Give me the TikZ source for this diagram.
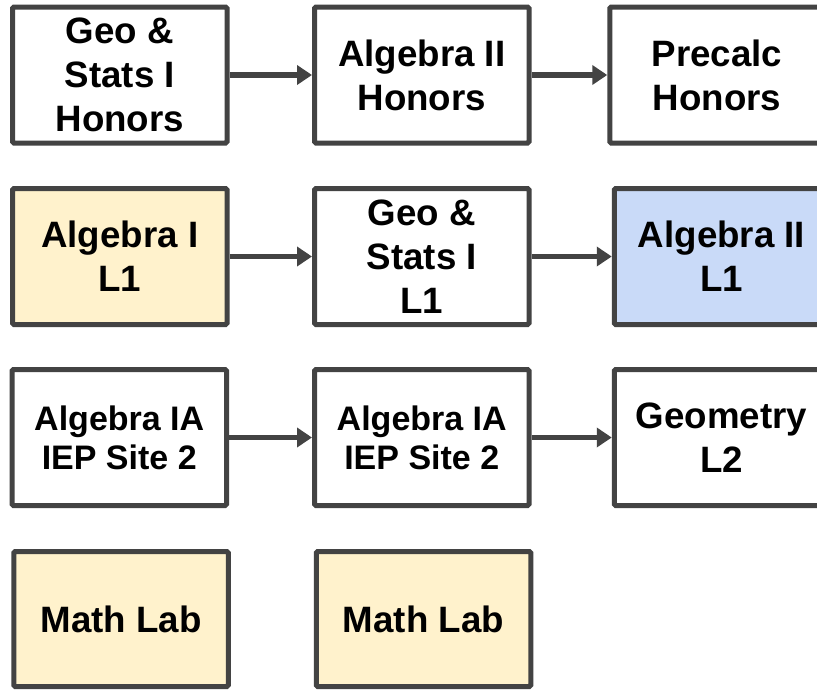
\documentclass[tikz,border=0pt]{standalone}
\usepackage{fontspec}
\setmainfont{Liberation Sans}
\usetikzlibrary{arrows.meta}
\definecolor{edgegray}{HTML}{434343}
\definecolor{paleyellow}{HTML}{FFF2CC}
\definecolor{paleblue}{HTML}{C9DAF8}
\tikzset{
  course/.style={draw=edgegray, line width=5pt, rounded corners=1.5pt, fill=white,
    minimum width=214.5pt, minimum height=136pt, inner sep=0pt, align=center,
    text=black, font=\fontsize{36.7}{44}\selectfont\bfseries},
  smalltext/.style={font=\fontsize{34}{39}\selectfont\bfseries},
  flow/.style={draw=edgegray, line width=5.5pt, -{Triangle[length=15pt,width=19pt]}}
}
\begin{document}
\begin{tikzpicture}[x=1pt,y=-1pt]
\path[use as bounding box, clip] (0,0) rectangle (817,689);
\fill[white] (0,0) rectangle (817,689);
% row 1
\node[course] (r1c1) at (119.75,75) {Geo \&\\Stats I\\Honors};
\node[course] (r1c2) at (421.75,75) {Algebra II\\Honors};
\node[course] (r1c3) at (717,75) {Precalc\\Honors};
% row 2
\node[course, fill=paleyellow] (r2c1) at (119.75,256.5) {Algebra I\\L1};
\node[course] (r2c2) at (421.75,256.5) {Geo \&\\Stats I\\L1};
\node[course, fill=paleblue] (r2c3) at (721.5,256.5) {Algebra II\\L1};
% row 3
\node[course, smalltext] (r3c1) at (119.25,437.5) {Algebra IA\\IEP Site 2};
\node[course, smalltext] (r3c2) at (421.75,437.5) {Algebra IA\\IEP Site 2};
\node[course] (r3c3) at (721.5,437.5) {Geometry\\L2};
% row 4
\node[course, fill=paleyellow, minimum height=135pt] (r4c1) at (121,619) {Math Lab};
\node[course, fill=paleyellow, minimum height=135pt] (r4c2) at (423.5,619) {Math Lab};
% connectors
\draw[flow] (r1c1.east) -- (r1c2.west);
\draw[flow] (r1c2.east) -- (r1c3.west);
\draw[flow] (r2c1.east) -- (r2c2.west);
\draw[flow] (r2c2.east) -- (r2c3.west);
\draw[flow] (r3c1.east) -- (r3c2.west);
\draw[flow] (r3c2.east) -- (r3c3.west);
\end{tikzpicture}
\end{document}
